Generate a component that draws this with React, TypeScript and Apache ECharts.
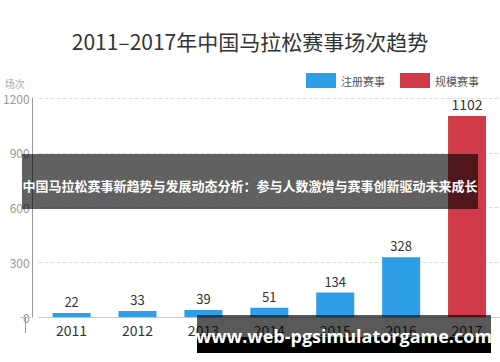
import React, { useEffect, useRef } from "react";
import * as echarts from "echarts";

const years = ["2011", "2012", "2013", "2014", "2015", "2016", "2017"];
const registeredRaces = [22, 33, 39, 51, 134, 328, "-"];
const scaleRaces = ["-", "-", "-", "-", "-", "-", 1102];
const yTicks = { min: 0, max: 1200, interval: 300 };
const titleText = "2011–2017年中国马拉松赛事场次趋势";
const bannerText = "中国马拉松赛事新趋势与发展动态分析：参与人数激增与赛事创新驱动未来成长";
const watermarkText = "www.web-pgsimulatorgame.com";

const FONT = "'Noto Sans CJK SC', 'Noto Sans', sans-serif";

export default function App() {
  const ref = useRef<HTMLDivElement>(null);
  useEffect(() => {
    if (!ref.current) return;
    const chart = echarts.init(ref.current, null, { renderer: "svg" });
    chart.setOption({
      animation: false,
      backgroundColor: "#ffffff",
      textStyle: { fontFamily: FONT },
      title: {
        text: titleText,
        left: "center",
        top: 25,
        textStyle: { fontSize: 21, fontWeight: "normal", color: "#333", fontFamily: FONT },
      },
      legend: {
        right: 16,
        top: 68,
        itemWidth: 30,
        itemHeight: 15,
        itemGap: 15,
        icon: "rect",
        textStyle: { fontSize: 11, color: "#555", fontFamily: FONT },
        data: ["注册赛事", "规模赛事"],
      },
      grid: { left: 31, right: 0, top: 98, bottom: 45 },
      xAxis: {
        type: "category",
        data: years,
        axisTick: { show: false },
        axisLine: { show: true, lineStyle: { color: "#c8c8c8", width: 1 } },
        axisLabel: { fontSize: 14, color: "#333", margin: 6, fontFamily: FONT },
      },
      yAxis: {
        type: "value",
        min: yTicks.min,
        max: yTicks.max,
        interval: yTicks.interval,
        offset: 6,
        name: "场次",
        nameLocation: "end",
        nameGap: 10,
        nameTextStyle: { fontSize: 10, color: "#aaa", align: "right", padding: [0, 8, 0, 0], fontFamily: FONT },
        axisLine: { show: true, lineStyle: { color: "#999", width: 1 } },
        axisTick: { show: false },
        axisLabel: {
          fontSize: 12,
          color: "#999",
          margin: 3,
          fontFamily: FONT,
          formatter: (v: number) => String(v),
        },
        splitLine: { show: true, lineStyle: { color: "#ddd", type: "dashed" } },
      },
      series: [
        {
          name: "注册赛事",
          type: "bar",
          data: registeredRaces,
          barWidth: 38,
          barGap: "-100%",
          itemStyle: { color: "#2E9FE6" },
          label: { show: true, position: "top", distance: 5, fontSize: 13, color: "#333", fontFamily: FONT },
        },
        {
          name: "规模赛事",
          type: "bar",
          data: scaleRaces,
          barWidth: 38,
          barGap: "-100%",
          itemStyle: { color: "#D13B47" },
          label: { show: true, position: "top", distance: 5, fontSize: 14, color: "#333", fontFamily: FONT },
        },
      ],
      graphic: [
        { type: "line", shape: { x1: 20, y1: 317.5, x2: 31, y2: 317.5 }, style: { stroke: "#c8c8c8", lineWidth: 1 }, z: 5 },
        { type: "line", shape: { x1: 25.5, y1: 317, x2: 25.5, y2: 333 }, style: { stroke: "#999", lineWidth: 1 }, z: 5 },
        {
          type: "rect",
          shape: { x: 22, y: 154, width: 456, height: 55 },
          style: { fill: "rgba(0,0,0,0.62)" },
          z: 100,
        },
        {
          type: "text",
          x: 250,
          y: 185,
          style: {
            text: bannerText,
            fill: "#fff",
            fontSize: 13,
            fontWeight: "bold",
            fontFamily: FONT,
            align: "center",
            verticalAlign: "middle",
          },
          z: 101,
        },
        {
          type: "rect",
          shape: { x: 197, y: 315, width: 294, height: 22 },
          style: { fill: "rgba(0,0,0,0.65)" },
          z: 100,
        },
        {
          type: "rect",
          shape: { x: 197, y: 337, width: 294, height: 16 },
          style: { fill: "#000" },
          z: 100,
        },
        {
          type: "text",
          x: 344,
          y: 336,
          style: {
            text: watermarkText,
            fill: "#fff",
            fontSize: 18,
            fontWeight: "bold",
            fontFamily: "'Open Sans', 'Noto Sans', sans-serif",
            align: "center",
            verticalAlign: "middle",
          },
          z: 101,
        },
      ],
    });
    return () => chart.dispose();
  }, []);
  return <div ref={ref} style={{ position: "fixed", left: 0, top: 0, width: 500, height: 362 }} />;
}
